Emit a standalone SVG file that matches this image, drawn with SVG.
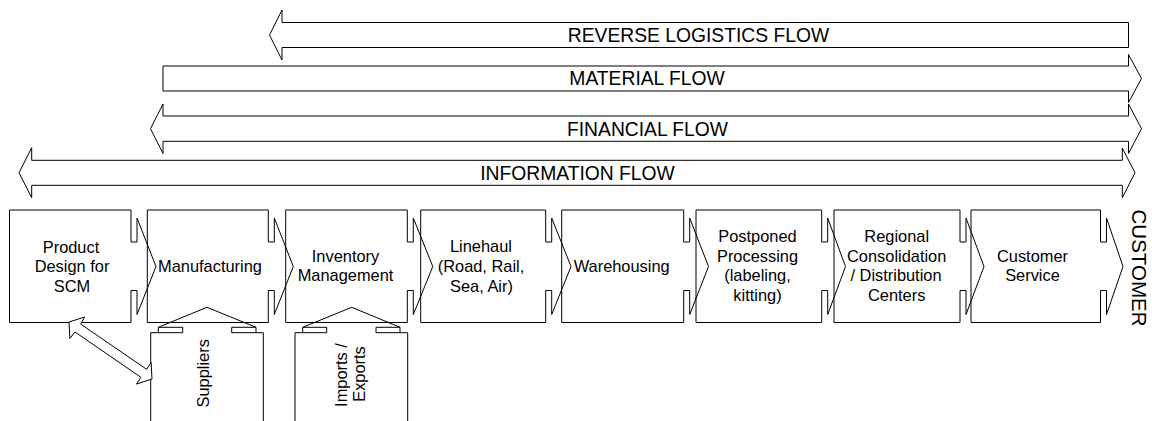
<svg xmlns="http://www.w3.org/2000/svg" width="1152" height="421" viewBox="0 0 1152 421">
<style>
.s{fill:#fff;stroke:#000;stroke-width:1}
.o{fill:none;stroke:#000;stroke-width:1}
.t{font-family:"Liberation Sans",Arial,sans-serif;font-size:16.4px;fill:#000;text-anchor:middle}
.f{font-family:"Liberation Sans",Arial,sans-serif;font-size:19.3px;fill:#000;text-anchor:middle}
</style>
<rect width="1152" height="421" fill="#fff"/>
<g id="flows">
<g id="reverse-flow">
<path class="s" d="M269.5,35 L282,10 V22.5 H1128.5 V47.5 H282 V60 Z"/>
<text class="f" x="698.5" y="41.9">REVERSE LOGISTICS FLOW</text>
</g>
<g id="material-flow">
<path class="s" d="M163,66 H1128.5 V54.5 L1141.5,78.5 L1128.5,102.5 V91 H163 Z"/>
<text class="f" x="647" y="85.4">MATERIAL FLOW</text>
</g>
<g id="financial-flow">
<path class="s" d="M150.5,128.7 L163,104 V116 H1128.5 V104 L1141.5,128.7 L1128.5,153.5 V141.3 H163 V153.5 Z"/>
<text class="f" x="647.5" y="135.6">FINANCIAL FLOW</text>
</g>
<g id="information-flow">
<path class="s" d="M19,172.8 L31.7,147.7 V160.3 H1122.3 V148 L1135,172.8 L1122.3,197.7 V185.3 H31.7 V197.7 Z"/>
<text class="f" x="577.5" y="179.7">INFORMATION FLOW</text>
</g>
</g>
<g id="stage1">
<path class="o" d="M9.5,210 H131 V242 H137 V218 L156,266.5 L137,314.5 V290.5 H131 V322.5 H9.5 Z"/>
<text class="t" x="71" y="252.5">Product</text>
<text class="t" x="72" y="272">Design for</text>
<text class="t" x="72" y="291.5">SCM</text>
</g>
<g id="stage2">
<path class="o" d="M147.3,210 H268.3 V242 H274.3 V218 L293.3,266.5 L274.3,314.5 V290.5 H268.3 V322.5 H147.3 Z"/>
<text class="t" x="210" y="272.3">Manufacturing</text>
</g>
<g id="stage3">
<path class="o" d="M285.7,210 H407.3 V242 H413.3 V218 L432.8,266.5 L413.3,314.5 V290.5 H407.3 V322.5 H285.7 Z"/>
<text class="t" x="345.5" y="261.7">Inventory</text>
<text class="t" x="345.5" y="281">Management</text>
</g>
<g id="stage4">
<path class="o" d="M420.7,210 H545.7 V242 H551.7 V218 L571,266.5 L551.7,314.5 V290.5 H545.7 V322.5 H420.7 Z"/>
<text class="t" x="481" y="251.7">Linehaul</text>
<text class="t" x="481" y="271.7">(Road, Rail,</text>
<text class="t" x="481.5" y="291.5">Sea, Air)</text>
</g>
<g id="stage5">
<path class="o" d="M561.7,210 H683.7 V242 H689.7 V218 L708.5,266.5 L689.7,314.5 V290.5 H683.7 V322.5 H561.7 Z"/>
<text class="t" x="621.7" y="272.3">Warehousing</text>
</g>
<g id="stage6">
<path class="o" d="M696,210 H821.7 V242 H827.7 V218 L845.5,266.5 L827.7,314.5 V290.5 H821.7 V322.5 H696 Z"/>
<text class="t" x="757.5" y="241.7">Postponed</text>
<text class="t" x="757.5" y="261.7">Processing</text>
<text class="t" x="757.5" y="281">(labeling,</text>
<text class="t" x="757.5" y="301">kitting)</text>
</g>
<g id="stage7">
<path class="o" d="M834,210 H960 V242 H966 V218 L984,266.5 L966,314.5 V290.5 H960 V322.5 H834 Z"/>
<text class="t" x="896.7" y="241.7">Regional</text>
<text class="t" x="896.7" y="261.7">Consolidation</text>
<text class="t" x="896" y="281">/ Distribution</text>
<text class="t" x="896.7" y="301">Centers</text>
</g>
<g id="stage8">
<path class="o" d="M971,210 H1100.5 V242 H1106.5 V218 L1123,266.5 L1106.5,314.5 V290.5 H1100.5 V322.5 H971 Z"/>
<text class="t" x="1032.5" y="261.7">Customer</text>
<text class="t" x="1032.5" y="281">Service</text>
</g>
<g id="customer">
<text font-family="Liberation Sans, Arial, sans-serif" font-size="20.5" text-anchor="middle" transform="translate(1132,268) rotate(90)">CUSTOMER</text>
</g>
<g id="suppliers">
<path class="o" d="M150.7,425 V332.7 H182.7 V327.3 H158.3 V332.7 M158.3,327.3 L207,307.3 L256,327.3 V332.7 M256,327.3 H231.7 V332.7 H263.3 V425"/>
<text class="t" transform="translate(209.3,373.3) rotate(-90)">Suppliers</text>
</g>
<g id="imports-exports">
<path class="o" d="M295,425 V332.7 H326.7 V327.3 H302.7 V332.7 M302.7,327.3 L351.7,307.3 L400,327.3 V332.7 M400,327.3 H376 V332.7 H407.7 V425"/>
<text class="t" transform="translate(346.7,375) rotate(-90)">Imports /</text>
<text class="t" transform="translate(365,374) rotate(-90)">Exports</text>
</g>
<g id="connectors">
<path class="s" d="M69,322 L69.9,338.4 L75,332 L140.9,377.3 L136.4,384.1 L152,379 L151.1,362.6 L146.6,369.3 L80.7,324.1 L84.6,317 Z"/>
</g>
</svg>
